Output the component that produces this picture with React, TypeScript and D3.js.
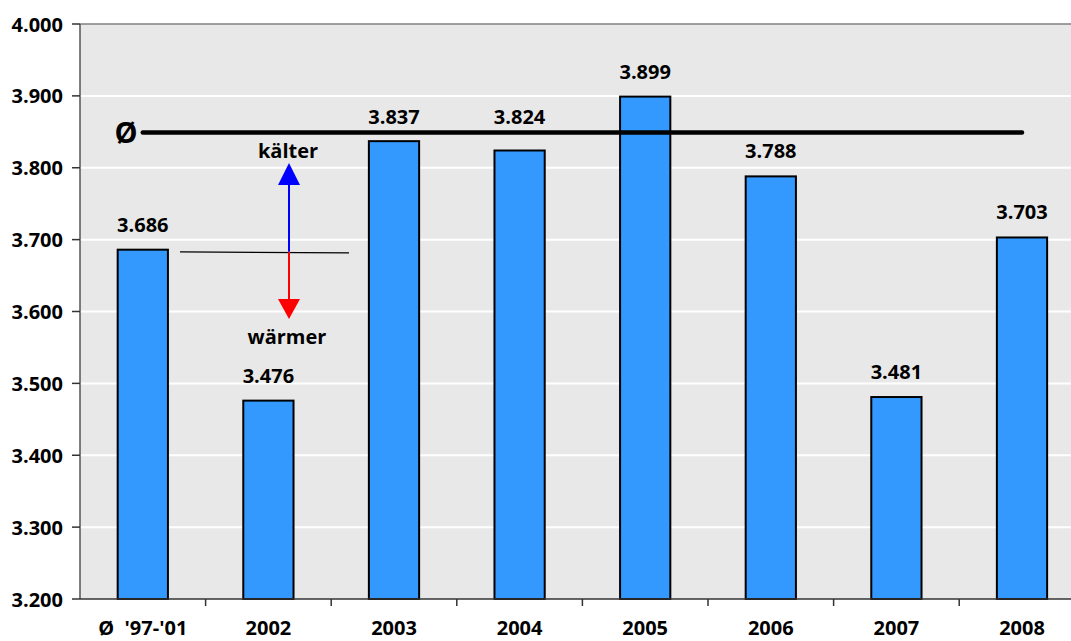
import React from "react";
import * as d3 from "d3";

const categories = ["Ø  '97-'01", "2002", "2003", "2004", "2005", "2006", "2007", "2008"];
const values = [3.686, 3.476, 3.837, 3.824, 3.899, 3.788, 3.481, 3.703];
const yTicks = [3.2, 3.3, 3.4, 3.5, 3.6, 3.7, 3.8, 3.9, 4.0];
const longTermAverage = 3.849;
const referenceLevel = 3.683;

const W = 1071;
const H = 641;
const FONT = "'Open Sans', 'DejaVu Sans', sans-serif";

export default function App() {
  const left = 80;
  const top = 24;
  const bottom = 599;
  const catWidth = 125.6;
  const right = left + catWidth * categories.length;

  const x = d3.scaleBand<string>().domain(categories).range([left, right]).paddingInner(0.6).paddingOuter(0.3);
  const y = d3.scaleLinear().domain([3.2, 4.0]).range([bottom, top]);
  const fmt = (v: number) => d3.format(".3f")(v);
  const cx = (c: string) => (x(c) as number) + x.bandwidth() / 2;

  const avgY = y(longTermAverage);
  // value label baseline; labels that would sit on the average line are lifted above it
  const labelY = (v: number) => {
    const base = y(v) - 18;
    return base > avgY - 10 && base < avgY + 22 ? avgY - 9 : base;
  };

  const arrowX = 289;
  const refY = y(referenceLevel);
  const blueTip = 163;
  const redTip = 319;

  return (
    <svg width={W} height={H} style={{ position: "absolute", left: 0, top: 0, display: "block" }}>
      <rect x={0} y={0} width={W} height={H} fill="#ffffff" />
      <rect x={left} y={top} width={right - left} height={bottom - top} fill="#e8e8e8" />
      {yTicks.slice(1, -1).map((t) => (
        <line key={t} x1={left} x2={right} y1={y(t)} y2={y(t)} stroke="#ffffff" strokeWidth={2} />
      ))}
      <line x1={left} x2={right} y1={top} y2={top} stroke="#808080" strokeWidth={1.5} />
      {/* left axis */}
      <line x1={left} x2={left} y1={top} y2={bottom} stroke="#555" strokeWidth={1.5} />
      {yTicks.map((t) => (
        <g key={t}>
          <line x1={left - 8} x2={left} y1={y(t)} y2={y(t)} stroke="#333" strokeWidth={1.5} />
          <text x={63} y={y(t) + 7.5} textAnchor="end" fontFamily={FONT} fontWeight="bold" fontSize={20} fill="#000">
            {fmt(t)}
          </text>
        </g>
      ))}
      {/* bars */}
      {categories.map((c, i) => (
        <rect
          key={c}
          x={x(c)}
          y={y(values[i])}
          width={x.bandwidth()}
          height={bottom - y(values[i])}
          fill="#3399ff"
          stroke="#000"
          strokeWidth={2}
        />
      ))}
      {/* bottom axis */}
      <line x1={left} x2={right} y1={bottom} y2={bottom} stroke="#333" strokeWidth={1.5} />
      {categories.map((c, i) => (
        <g key={"t" + c}>
          <line x1={left + catWidth * (i + 1)} x2={left + catWidth * (i + 1)} y1={bottom} y2={bottom + 7} stroke="#333" strokeWidth={1.5} />
          <text x={cx(c)} y={635} textAnchor="middle" fontFamily={FONT} fontWeight="bold" fontSize={20} fill="#000" style={{ whiteSpace: "pre" }}>
            {c}
          </text>
        </g>
      ))}
      {/* long-term average */}
      <line
        x1={cx(categories[0])}
        x2={cx(categories[categories.length - 1])}
        y1={avgY}
        y2={avgY}
        stroke="#000"
        strokeWidth={4.5}
        strokeLinecap="round"
      />
      <text x={126} y={avgY + 10} textAnchor="middle" fontFamily={FONT} fontWeight="bold" fontSize={29} fill="#000">
        Ø
      </text>
      {/* value labels */}
      {categories.map((c, i) => (
        <text key={"v" + c} x={cx(c)} y={labelY(values[i])} textAnchor="middle" fontFamily={FONT} fontWeight="bold" fontSize={20} fill="#000">
          {fmt(values[i])}
        </text>
      ))}
      {/* reference level with arrows */}
      <line x1={180} x2={349} y1={refY} y2={refY + 1} stroke="#000" strokeWidth={1.2} />
      <line x1={arrowX} x2={arrowX} y1={refY} y2={blueTip + 20} stroke="#0000ff" strokeWidth={2} />
      <path d={`M${arrowX},${blueTip} L${arrowX - 11},${blueTip + 22} L${arrowX + 11},${blueTip + 22} Z`} fill="#0000ff" />
      <line x1={arrowX} x2={arrowX} y1={refY} y2={redTip - 18} stroke="#ff0000" strokeWidth={2} />
      <path d={`M${arrowX},${redTip} L${arrowX - 11},${redTip - 20} L${arrowX + 11},${redTip - 20} Z`} fill="#ff0000" />
      <text x={arrowX - 1} y={158} textAnchor="middle" fontFamily={FONT} fontWeight="bold" fontSize={20} fill="#000">
        kälter
      </text>
      <text x={arrowX - 2} y={344} textAnchor="middle" fontFamily={FONT} fontWeight="bold" fontSize={20} fill="#000">
        wärmer
      </text>
    </svg>
  );
}
